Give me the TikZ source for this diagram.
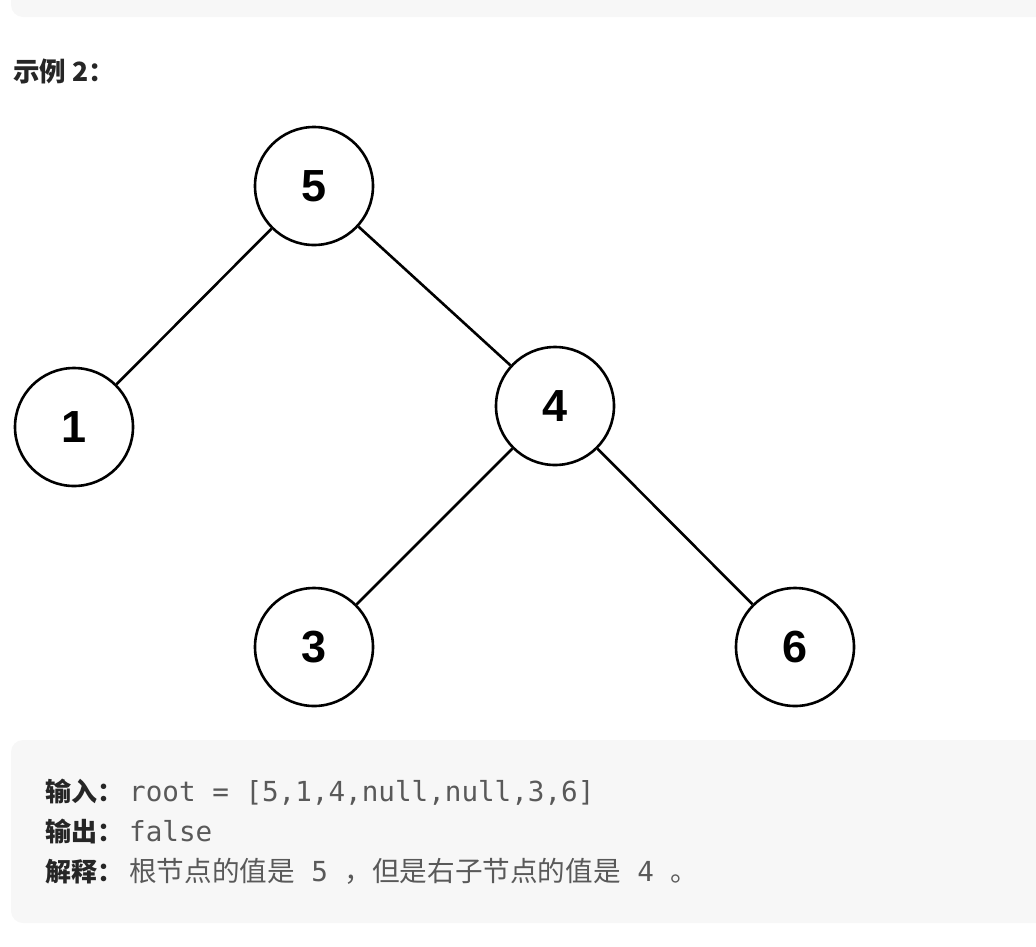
\documentclass[tikz,border=0pt]{standalone}
\usepackage{fontspec}
\setmainfont{Liberation Sans}
\newfontfamily\cjk{Noto Sans CJK SC}
\newfontfamily\mono{DejaVu Sans Mono}
\definecolor{boxbg}{HTML}{F7F7F7}
\definecolor{lbl}{HTML}{262626}
\definecolor{val}{HTML}{595959}
\tikzset{
  tn/.style={circle, draw=black, line width=2.6pt, minimum size=118pt, inner sep=0pt,
    font=\bfseries\fontsize{45}{45}\selectfont},
  tedge/.style={line width=2.6pt, draw=black},
  lab/.style={anchor=base west, inner sep=0pt, text=lbl, font=\cjk\bfseries\fontsize{26}{26}\selectfont},
  valtext/.style={anchor=base west, inner sep=0pt, text=val, font=\mono\fontsize{27.6}{27.6}\selectfont},
  panel/.style={fill=boxbg, rounded corners=12pt}
}
\begin{document}
\begin{tikzpicture}[x=1pt,y=-1pt]
\path[clip] (0,0) rectangle (1036,946);
\path[use as bounding box] (0,0) rectangle (1036,946);
% top panel remnant
\path[panel] (11,-40) rectangle (1080,17);
% title
\node[lab, font=\cjk\bfseries\fontsize{26.5}{26.5}\selectfont] (title) at (13,81) {示例\ 2：};
% tree
\begin{scope}
\clip (0,110) rectangle (856.5,707);
\node[tn] (n5) at (314,186) {5};
\node[tn] (n1) at (74,427) {1};
\node[tn] (n4) at (555,406) {4};
\node[tn] (n3) at (314,647) {3};
\node[tn] (n6) at (795,647) {6};
\draw[tedge] (n5) -- (n1);
\draw[tedge] (n5) -- (n4);
\draw[tedge] (n4) -- (n3);
\draw[tedge] (n4) -- (n6);
\end{scope}
% bottom panel
\path[panel] (11,740) rectangle (1080,923);
\node[lab] (l1) at (45,801) {输入：};
\node[valtext] (v1) at (129,801) {root = [5,1,4,null,null,3,6]};
\node[lab] (l2) at (45,841) {输出：};
\node[valtext] (v2) at (129,841) {false};
\node[lab] (l3) at (45,881) {解释：};
\node[valtext] (v3) at (129,881) {{\cjk\fontsize{27.6}{27.6}\selectfont 根节点的值是}\ 5\ {\cjk\fontsize{27.6}{27.6}\selectfont ，但是右子节点的值是}\ 4\ {\cjk\fontsize{27.6}{27.6}\selectfont 。}};
\end{tikzpicture}
\end{document}
